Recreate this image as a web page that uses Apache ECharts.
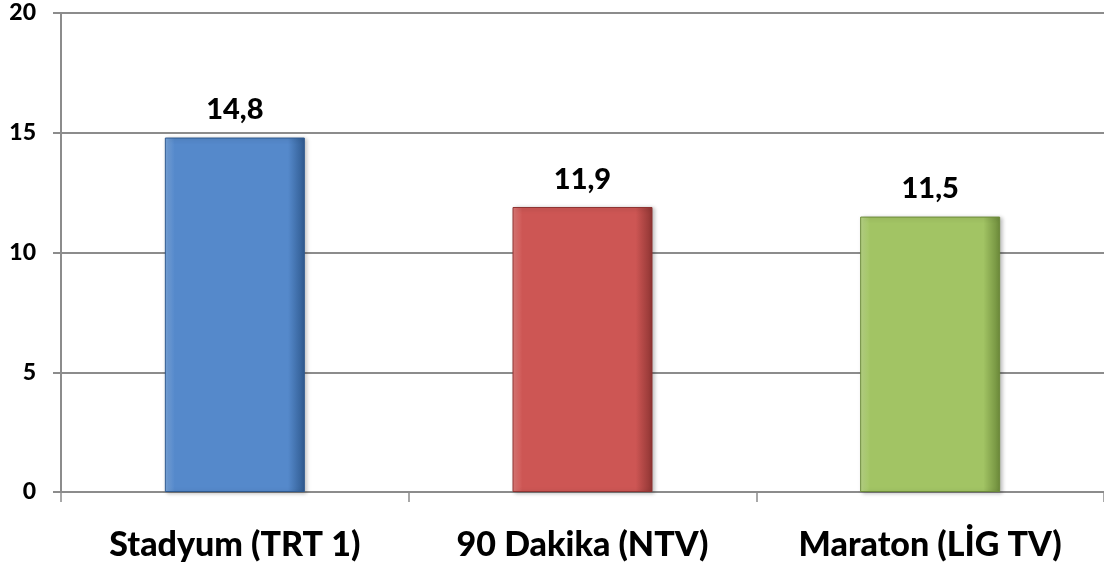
<!DOCTYPE html>
<html><head><meta charset="utf-8">
<script src="https://cdn.jsdelivr.net/npm/echarts@6/dist/echarts.min.js"></script>
<style>html,body{margin:0;padding:0;background:#fff}#c{width:1104px;height:575px}</style>
</head><body><div id="c"></div>
<script>
const categories = ['Stadyum (TRT 1)', '90 Dakika (NTV)', 'Maraton (LİG TV)'];
const values = [14.8, 11.9, 11.5];
const valueLabels = ['14,8', '11,9', '11,5'];
const yTicks = [0, 5, 10, 15, 20];

const palette = [
  ['#7aa6dc', '#5589cb', '#2f5a8f'],
  ['#e07c7a', '#cd5654', '#8e3533'],
  ['#bcd98a', '#a2c464', '#6c8a3a']
];
function grad(p) {
  return {
    type: 'linear', x: 0, y: 0, x2: 1, y2: 0,
    colorStops: [
      {offset: 0, color: p[0]}, {offset: 0.07, color: p[1]},
      {offset: 0.88, color: p[1]}, {offset: 1, color: p[2]}
    ]
  };
}
const chart = echarts.init(document.getElementById('c'));
const font = "Lato";
chart.setOption({
  animation: false,
  grid: {left: 61, right: -6, top: 13, bottom: 83},
  xAxis: {
    type: 'category', data: categories,
    axisLine: {lineStyle: {color: '#8c8c8c', width: 2}},
    axisTick: {show: true, interval: 0, length: 10, lineStyle: {color: '#8c8c8c', width: 1.5}},
    axisLabel: {interval: 0, hideOverlap: false, margin: 36, color: '#000', fontWeight: 900, fontSize: 34, fontFamily: font}
  },
  yAxis: {
    type: 'value', min: yTicks[0], max: yTicks[yTicks.length - 1], interval: 5,
    axisLine: {show: true, lineStyle: {color: '#8c8c8c', width: 2}},
    axisTick: {show: true, length: 8, lineStyle: {color: '#8c8c8c', width: 2}},
    splitLine: {lineStyle: {color: '#8c8c8c', width: 2}},
    axisLabel: {margin: 25, color: '#000', fontWeight: 900, fontSize: 23, fontFamily: font}
  },
  series: [{
    type: 'bar', barWidth: 140,
    data: values.map((v, i) => ({
      value: v,
      itemStyle: {color: grad(palette[i]), borderColor: palette[i][2], borderWidth: 1,
        shadowColor: 'rgba(0,0,0,0.25)', shadowBlur: 4, shadowOffsetX: 2, shadowOffsetY: 1}
    })),
    label: {
      show: true, position: 'top', distance: 13, color: '#000', fontWeight: 900,
      fontSize: 29, fontFamily: font,
      formatter: p => valueLabels[p.dataIndex]
    }
  }]
});
</script></body></html>
